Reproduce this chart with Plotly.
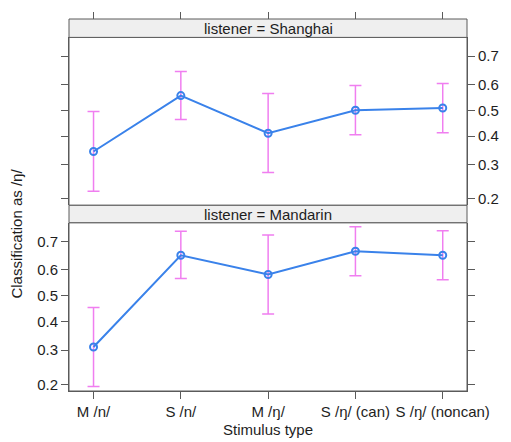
import numpy as np
import plotly.graph_objects as go

# ---- data (proportions) ----
categories = ["M /n/", "S /n/", "M /ŋ/", "S /ŋ/ (can)", "S /ŋ/ (noncan)"]

shanghai_mean = [0.344, 0.557, 0.411, 0.500, 0.509]
shanghai_lower = [0.220, 0.464, 0.274, 0.405, 0.413]
shanghai_upper = [0.495, 0.647, 0.565, 0.596, 0.603]

mandarin_mean = [0.310, 0.653, 0.582, 0.667, 0.653]
mandarin_lower = [0.195, 0.567, 0.429, 0.577, 0.562]
mandarin_upper = [0.454, 0.732, 0.721, 0.746, 0.734]

tick_values = [0.2, 0.3, 0.4, 0.5, 0.6, 0.7]
tick_labels = ["0.2", "0.3", "0.4", "0.5", "0.6", "0.7"]


def logit(p):
    p = np.asarray(p, dtype=float)
    return np.log(p / (1 - p))


LINE_COL = "#3a82ea"
ERR_COL = "#f07ef0"
AXIS_COL = "#5a5a5a"
TXT_COL = "#1e1e1e"
FONT = "Liberation Sans, Arial, sans-serif"
FS = 15

W, H = 511, 442
ML, MR, MT, MB = 69, 36, 13, 51
PH = H - MT - MB


def py(pix):
    return (H - MB - pix) / PH


bot_dom = [0, py(220)]
bot_strip = [py(220), py(202.3)]
top_dom = [py(202.3), py(31.7)]
top_strip = [py(31.7), 1.0]

yrange = [-1.487, 1.14]


def panel_trace(mean, lo, hi, xa, ya):
    m = logit(mean)
    return go.Scatter(
        x=categories, y=m, xaxis=xa, yaxis=ya, mode="lines+markers",
        line=dict(color=LINE_COL, width=2),
        marker=dict(symbol="circle-open", size=7, color=LINE_COL, line=dict(width=2)),
        error_y=dict(type="data", symmetric=False,
                     array=logit(hi) - m, arrayminus=m - logit(lo),
                     color=ERR_COL, thickness=1.5, width=6),
        showlegend=False, hoverinfo="skip",
    )


fig = go.Figure()
fig.add_trace(panel_trace(mandarin_mean, mandarin_lower, mandarin_upper, "x", "y"))
fig.add_trace(panel_trace(shanghai_mean, shanghai_lower, shanghai_upper, "x2", "y2"))

tickfont = dict(family=FONT, size=FS, color=TXT_COL)
xrange = [-0.281, 4.278]
common_y = dict(range=yrange, tickvals=list(logit(tick_values)), ticktext=tick_labels,
                ticks="outside", ticklen=7, tickcolor=AXIS_COL, tickwidth=1,
                showline=True, linecolor=AXIS_COL, linewidth=1, mirror="ticks",
                showgrid=False, zeroline=False, tickfont=tickfont, fixedrange=True)

fig.update_layout(
    width=W, height=H,
    margin=dict(l=ML, r=MR, t=MT, b=MB, pad=0),
    paper_bgcolor="white", plot_bgcolor="white",
    font=dict(family=FONT, size=FS, color=TXT_COL),
    xaxis=dict(domain=[0, 1], anchor="y", type="category", categoryorder="array",
               categoryarray=categories, range=xrange,
               ticks="outside", ticklen=7, tickcolor=AXIS_COL, showline=True,
               linecolor=AXIS_COL, mirror=False, showgrid=False, zeroline=False,
               tickfont=tickfont, fixedrange=True),
    xaxis2=dict(domain=[0, 1], anchor="free", position=1.0, side="top", type="category",
                categoryorder="array", categoryarray=categories, range=xrange,
                ticks="outside", ticklen=7, tickcolor=AXIS_COL, showline=False,
                showticklabels=False, showgrid=False, zeroline=False, fixedrange=True),
    yaxis=dict(domain=bot_dom, anchor="x", side="left", **common_y),
    yaxis2=dict(domain=top_dom, anchor="x2", side="right", **common_y),
)

shapes = []
for d in (bot_dom, top_dom):
    shapes.append(dict(type="rect", xref="paper", yref="paper", x0=0, x1=1, y0=d[0], y1=d[1],
                       line=dict(color=AXIS_COL, width=1), fillcolor="rgba(0,0,0,0)", layer="above"))
for d in (bot_strip, top_strip):
    shapes.append(dict(type="rect", xref="paper", yref="paper", x0=0, x1=1, y0=d[0], y1=d[1],
                       line=dict(color=AXIS_COL, width=1), fillcolor="#efefef", layer="above"))
fig.update_layout(shapes=shapes)

ann = [
    dict(text="listener = Mandarin", x=0.5, y=sum(bot_strip) / 2),
    dict(text="listener = Shanghai", x=0.5, y=sum(top_strip) / 2),
]
annotations = [dict(xref="paper", yref="paper", showarrow=False, xanchor="center",
                    yanchor="middle", font=dict(family=FONT, size=FS, color=TXT_COL), **a)
               for a in ann]
annotations.append(dict(text="Stimulus type", xref="paper", yref="paper", x=0.5, y=py(441),
                        showarrow=False, xanchor="center", yanchor="bottom",
                        font=dict(family=FONT, size=FS, color=TXT_COL)))
annotations.append(dict(text="Classification as /ŋ/", xref="paper", yref="paper",
                        x=(15 - ML) / (W - ML - MR), y=py(231), textangle=-90,
                        showarrow=False, xanchor="center", yanchor="middle",
                        font=dict(family=FONT, size=FS, color=TXT_COL)))
fig.update_layout(annotations=annotations)

fig.write_html("out.html", config=dict(displayModeBar=False))
